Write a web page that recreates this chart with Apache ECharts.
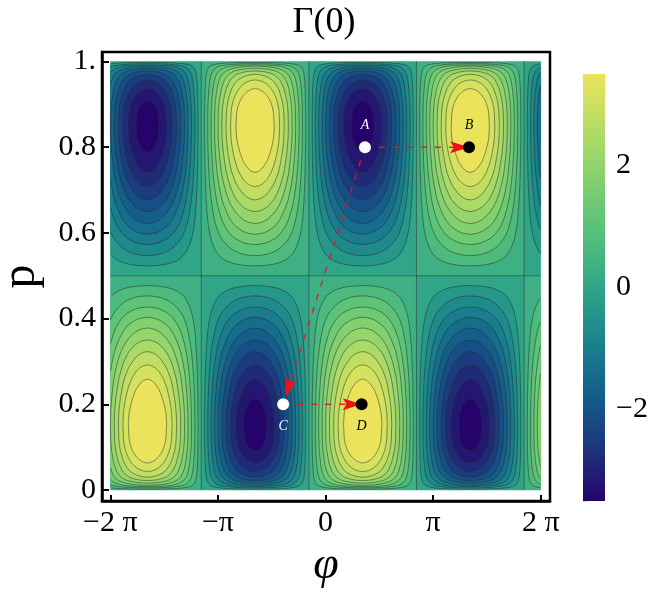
<!DOCTYPE html>
<html>
<head>
<meta charset="utf-8">
<style>html,body{margin:0;padding:0;background:#fff}#c{width:664px;height:596px}</style>
<script src="https://cdn.jsdelivr.net/npm/echarts@6/dist/echarts.min.js"></script>
</head>
<body>
<div id="c"></div>
<script>
// Where the contour lines cross the peak column and the peak row.
const contourStep = 0.3;
const profileValue = [0, 0.3, 0.6, 0.9, 1.2, 1.5, 1.8, 2.1, 2.4, 2.7, 3.0, 3.1, 3.15, 3.18];
const pNearMiddle = [0.5, 0.523, 0.547, 0.573, 0.597, 0.622, 0.650, 0.677, 0.708, 0.741, 0.787, 0.808, 0.822, 0.845];
const pNearEdge = [1.0, 0.998, 0.995, 0.992, 0.989, 0.984, 0.978, 0.970, 0.957, 0.937, 0.908, 0.893, 0.878, 0.845];
const lobeShape = [0, 0.094, 0.189, 0.283, 0.377, 0.472, 0.566, 0.660, 0.755, 0.849, 0.943, 0.975, 0.993, 1];
const lobeOffset = [0, 0.030, 0.060, 0.091, 0.123, 0.156, 0.191, 0.230, 0.272, 0.322, 0.392, 0.430, 0.465, 0.5];
const lobeStarts = [-2.155, -1.155, -0.155, 0.845, 1.845];
const maxNegativeContour = 10;
const maxPositiveContour = 9;

const points = [
  {name: 'A', phi: 0.366, p: 0.8},
  {name: 'B', phi: 1.333, p: 0.8},
  {name: 'C', phi: -0.394, p: 0.2},
  {name: 'D', phi: 0.335, p: 0.2}
];
const arrows = [['A', 'B', 0], ['A', 'C', 8], ['C', 'D', 0]];

const xTickValues = [-2, -1, 0, 1, 2];
const xTickLabels = ['−2 π', '−π', '0', 'π', '2 π'];
const yTickValues = [0, 0.2, 0.4, 0.6, 0.8, 1];
const yTickLabels = ['0', '0.2', '0.4', '0.6', '0.8', '1.'];
const barTickValues = [-3.5, -3, -2.5, -2, -1.5, -1, -0.5, 0, 0.5, 1, 1.5, 2, 2.5, 3, 3.5];
const barLabelValues = [-2, 0, 2];
const barLabels = ['−2', '0', '2'];
const colorValues = [-3.5, -3, -2.5, -2, -1.5, -1, -0.5, 0, 0.5, 1, 1.5, 2, 2.5, 3, 3.5];
const colorStops = ['#25036b', '#232073', '#1c3b7e', '#155388', '#16698c', '#1a7e8c', '#22928b', '#30a588',
                    '#45b581', '#5bc278', '#74cc72', '#90d46c', '#aedb66', '#cde060', '#ebe35b'];

const FONT = '"Liberation Serif", serif';
const LINE = 'rgba(35,45,45,0.62)';

function interp(xs, ys, x) {
  if (x <= xs[0]) return ys[0];
  for (let i = 1; i < xs.length; i++) {
    if (x <= xs[i]) return ys[i - 1] + (ys[i] - ys[i - 1]) * (x - xs[i - 1]) / (xs[i] - xs[i - 1]);
  }
  return ys[ys.length - 1];
}
function hex(c) { return [1, 3, 5].map(i => parseInt(c.substr(i, 2), 16)); }
function colorAt(v) {
  let i = 0;
  while (i < colorValues.length - 2 && v > colorValues[i + 1]) i++;
  const t = Math.max(0, Math.min(1, (v - colorValues[i]) / (colorValues[i + 1] - colorValues[i])));
  const a = hex(colorStops[i]), b = hex(colorStops[i + 1]);
  return 'rgb(' + a.map((x, k) => Math.round(x + (b[k] - x) * t)).join(',') + ')';
}
function bandColor(idx) { return colorAt(-3.5 + 7 * idx / 20); }

const peak = profileValue[profileValue.length - 1];
function contourPath(start, row, level) {
  const n = 70, pts = [];
  const sample = (u) => {
    const t = (1 - Math.cos(Math.PI * u)) / 2;
    const hv = peak + (level - peak) * t;
    const th = interp(lobeShape, lobeOffset, level / hv);
    return [th, interp(profileValue, pNearMiddle, hv), interp(profileValue, pNearEdge, hv)];
  };
  const add = (phi, p) => pts.push([phi, row > 0 ? p : 1 - p]);
  for (let i = 0; i <= n; i++) { const s = sample(i / n); add(start + s[0], s[2]); }
  for (let i = n; i >= 0; i--) { const s = sample(i / n); add(start + 1 - s[0], s[2]); }
  for (let i = 0; i <= n; i++) { const s = sample(i / n); add(start + 1 - s[0], s[1]); }
  for (let i = n; i >= 0; i--) { const s = sample(i / n); add(start + s[0], s[1]); }
  return pts;
}

// [lobe start, row (+1 upper, -1 lower), contour number]
const fieldItems = [];
lobeStarts.forEach((start, k) => {
  [1, -1].forEach(row => {
    const negative = (k % 2 === 0) === (row > 0);
    const top = negative ? maxNegativeContour : maxPositiveContour;
    for (let c = 0; c <= top; c++) fieldItems.push([start, row, c, negative ? -1 : 1]);
  });
});

function renderField(params, api) {
  const start = api.value(0), row = api.value(1), c = api.value(2), sign = api.value(3);
  const idx = sign > 0 ? 11 + c : 10 - c;
  const fill = bandColor(idx);
  const toPx = q => api.coord([Math.max(-2, Math.min(2, q[0])), Math.max(0, Math.min(1, q[1]))]);
  if (c === 0) {
    const corners = [[start, 0.5], [start + 1, 0.5], [start + 1, row > 0 ? 1 : 0], [start, row > 0 ? 1 : 0]];
    return {type: 'polygon', shape: {points: corners.map(toPx)}, style: {fill: fill, stroke: fill, lineWidth: 0.5}};
  }
  const path = contourPath(start, row, c * contourStep);
  const children = [{type: 'polygon', shape: {points: path.map(toPx)}, style: {fill: fill}}];
  let run = [];
  const flush = () => {
    if (run.length > 1) children.push({type: 'polyline', shape: {points: run}, style: {fill: 'none', stroke: LINE, lineWidth: 0.85}});
    run = [];
  };
  path.forEach(q => {
    if (q[0] >= -2 && q[0] <= 2) run.push(api.coord(q)); else flush();
  });
  flush();
  return {type: 'group', children: children};
}

const zeroLines = [[-2, 0.5, 2, 0.5]];
lobeStarts.forEach(s => { if (s >= -2 && s <= 2) zeroLines.push([s, 0, s, 1]); });

function renderSegment(params, api) {
  const a = api.coord([api.value(0), api.value(1)]), b = api.coord([api.value(2), api.value(3)]);
  return {type: 'line', shape: {x1: a[0], y1: a[1], x2: b[0], y2: b[1]}, style: {stroke: LINE, lineWidth: 0.85}};
}

const byName = Object.fromEntries(points.map(o => [o.name, o]));
const arrowItems = arrows.map(a => [byName[a[0]].phi, byName[a[0]].p, byName[a[1]].phi, byName[a[1]].p, a[2]]);
function renderArrow(params, api) {
  const a = api.coord([api.value(0), api.value(1)]), b = api.coord([api.value(2), api.value(3)]);
  const inset = api.value(4);
  const dx = b[0] - a[0], dy = b[1] - a[1], len = Math.hypot(dx, dy), ux = dx / len, uy = dy / len;
  const tip = [b[0] - ux * inset, b[1] - uy * inset];
  const at = (back, side) => [tip[0] - ux * back - uy * side, tip[1] - uy * back + ux * side];
  return {type: 'group', children: [
    {type: 'line', shape: {x1: a[0], y1: a[1], x2: at(10, 0)[0], y2: at(10, 0)[1]},
     style: {stroke: 'rgba(235,20,28,0.92)', lineWidth: 1.4, lineDash: [6, 8]}},
    {type: 'polygon', shape: {points: [tip, at(19, 6), at(15, 0), at(19, -6)]}, style: {fill: '#f01018'}}
  ]};
}

function renderColorBar(params, api) {
  const a = api.coord([0, 3.5]), b = api.coord([1, -3.5]);
  const stops = colorValues.map((v, i) => ({offset: (3.5 - v) / 7, color: colorStops[i]})).reverse();
  return {type: 'rect', shape: {x: a[0], y: a[1], width: b[0] - a[0], height: b[1] - a[1]},
    style: {fill: new echarts.graphic.LinearGradient(0, 0, 0, 1, stops)}};
}

function lookup(values, labels) {
  return v => { const i = values.findIndex(x => Math.abs(x - v) < 1e-6); return i < 0 ? '' : labels[i]; };
}

const chart = echarts.init(document.getElementById('c'), null, {renderer: 'canvas'});
chart.setOption({
  animation: false,
  backgroundColor: '#fff',
  title: {text: 'Γ(0)', left: 319, top: 0, textAlign: 'center',
    textStyle: {fontFamily: FONT, fontSize: 36, fontWeight: 'normal', color: '#000'}},
  grid: [
    {left: 102, width: 448, top: 52, height: 449, show: true, borderColor: '#000', borderWidth: 2.5, backgroundColor: '#fff', outerBoundsMode: 'none'},
    {left: 583, width: 22, top: 74, height: 427, show: false, outerBoundsMode: 'none'}
  ],
  xAxis: [
    {type: 'value', gridIndex: 0, min: -2.078, max: 2.086, name: 'φ', nameLocation: 'middle', nameGap: 42,
     nameTextStyle: {fontFamily: FONT, fontStyle: 'italic', fontSize: 46, color: '#000'},
     splitLine: {show: false},
     axisLine: {show: true, onZero: false, lineStyle: {color: '#000', width: 2.5}},
     axisTick: {show: true, inside: true, length: 6, lineStyle: {color: '#000', width: 2}, customValues: xTickValues},
     axisLabel: {margin: 7, fontFamily: FONT, fontSize: 30, color: '#000', customValues: xTickValues,
       formatter: lookup(xTickValues, xTickLabels)}},
    {type: 'value', gridIndex: 1, min: 0, max: 1, show: false}
  ],
  yAxis: [
    {type: 'value', gridIndex: 0, min: -0.0257, max: 1.0222, name: 'p', nameLocation: 'middle', nameGap: 57,
     nameTextStyle: {fontFamily: FONT, fontSize: 48, color: '#000'},
     splitLine: {show: false},
     axisLine: {show: true, onZero: false, lineStyle: {color: '#000', width: 2.5}},
     axisTick: {show: true, inside: true, length: 7, lineStyle: {color: '#000', width: 2}, customValues: yTickValues},
     axisLabel: {margin: 6, fontFamily: FONT, fontSize: 30, color: '#000', customValues: yTickValues,
       formatter: lookup(yTickValues, yTickLabels)}},
    {type: 'value', gridIndex: 1, min: -3.5, max: 3.5, position: 'right', splitLine: {show: false},
     axisLine: {show: false},
     axisTick: {show: true, length: 5, lineStyle: {color: '#d4d4d4', width: 1}, customValues: barTickValues},
     axisLabel: {margin: 11, fontFamily: FONT, fontSize: 30, color: '#000', customValues: barLabelValues,
       formatter: lookup(barLabelValues, barLabels)}}
  ],
  series: [
    {type: 'custom', name: 'field', xAxisIndex: 0, yAxisIndex: 0, z: 2, silent: true, clip: false,
     data: fieldItems, renderItem: renderField, encode: {x: 0, y: 1}},
    {type: 'custom', name: 'zero', xAxisIndex: 0, yAxisIndex: 0, z: 3, silent: true, clip: false,
     data: zeroLines, renderItem: renderSegment, encode: {x: [0, 2], y: [1, 3]}},
    {type: 'custom', name: 'arrows', xAxisIndex: 0, yAxisIndex: 0, z: 4, silent: true, clip: false,
     data: arrowItems, renderItem: renderArrow, encode: {x: [0, 2], y: [1, 3]}},
    {type: 'scatter', name: 'white', xAxisIndex: 0, yAxisIndex: 0, z: 5, silent: true, symbolSize: 12,
     itemStyle: {color: '#fff', opacity: 1},
     data: points.filter(o => o.name === 'A' || o.name === 'C').map(o => ({
       value: [o.phi, o.p], name: o.name,
       label: {show: true, formatter: o.name, position: o.name === 'A' ? 'top' : 'bottom', distance: 9,
         fontFamily: FONT, fontStyle: 'italic', fontSize: 14, color: '#fff'}}))},
    {type: 'scatter', name: 'black', xAxisIndex: 0, yAxisIndex: 0, z: 5, silent: true, symbolSize: 12,
     itemStyle: {color: '#000', opacity: 1},
     data: points.filter(o => o.name === 'B' || o.name === 'D').map(o => ({
       value: [o.phi, o.p], name: o.name,
       label: {show: true, formatter: o.name, position: o.name === 'B' ? 'top' : 'bottom', distance: 9,
         fontFamily: FONT, fontStyle: 'italic', fontSize: 14, color: '#000'}}))},
    {type: 'custom', name: 'colorbar', xAxisIndex: 1, yAxisIndex: 1, z: 2, silent: true, clip: false,
     data: [[0, 0]], renderItem: renderColorBar, encode: {x: 0, y: 1}}
  ]
});
</script>
</body>
</html>
